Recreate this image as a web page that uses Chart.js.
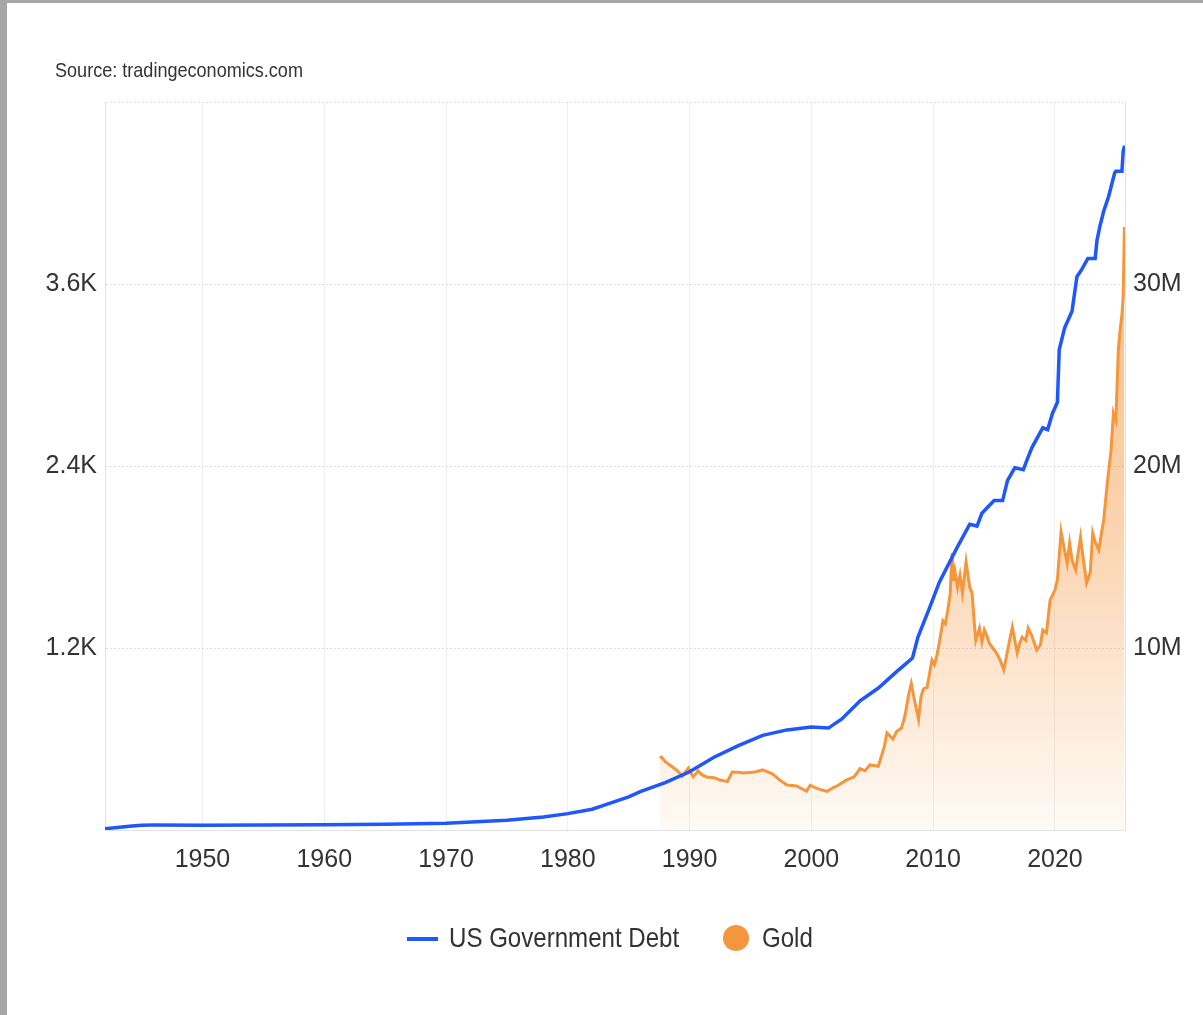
<!DOCTYPE html>
<html lang="en">
<head>
  <meta charset="UTF-8">
  <title>US Government Debt vs Gold</title>
  <style>
    html, body {
      margin: 0;
      padding: 0;
      background: #fff;
      width: 1203px;
      height: 1015px;
      overflow: hidden;
      font-family: 'Liberation Sans', Arial, sans-serif;
      color: #333;
    }
    .frame-left { position: absolute; left: 0; top: 0; width: 7px; height: 1015px; background: #a6a6a6; }
    .frame-top { position: absolute; left: 0; top: 0; width: 1203px; height: 3px; background: #a6a6a6; }
    #wrap { position: absolute; left: 0; top: 0; width: 1203px; height: 1015px; }
    .source {
      position: absolute;
      left: 55px;
      top: 58px;
      font-size: 21px;
      color: #333;
      transform: scaleX(0.86);
      transform-origin: left center;
      white-space: nowrap;
    }
    .lg { position: absolute; white-space: nowrap; }
    .lg-line { left: 407px; top: 937px; width: 31px; height: 4px; background: #1f57ff; }
    .lg-dot { left: 723px; top: 925px; width: 26px; height: 26px; border-radius: 50%; background: #f5963c; }
    .lg-text {
      top: 922px;
      font-size: 28px;
      color: #333;
      transform: scaleX(0.86);
      transform-origin: left center;
    }
  </style>
</head>
<body>
  <div id="wrap"><canvas id="chart" width="1203" height="1015"></canvas></div>
  <div class="frame-left"></div>
  <div class="frame-top"></div>
  <div class="source">Source: tradingeconomics.com</div>
  <div class="lg lg-line"></div>
  <div class="lg lg-text" style="left:449px">US Government Debt</div>
  <div class="lg lg-dot"></div>
  <div class="lg lg-text" style="left:762px">Gold</div>

  <script src="https://cdn.jsdelivr.net/npm/chart.js"></script>
  <script>
    // Debt in M (millions of USD millions)
    const debtYears = [1942, 1943, 1944, 1945, 1946, 1950, 1955, 1960, 1965, 1970, 1975, 1978, 1980, 1982,
      1983, 1985, 1986, 1988, 1990, 1992, 1994, 1996, 1998, 2000, 2001.4, 2002.5, 2004, 2005.5, 2007,
      2008.3, 2008.75, 2009.7, 2010.5, 2011.1, 2011.95, 2013.0, 2013.6, 2014.0, 2015.0, 2015.7, 2016.1,
      2016.7, 2017.4, 2017.8, 2018.1, 2019.0, 2019.4, 2019.8, 2020.2, 2020.35, 2020.8, 2021.4, 2021.8,
      2022.2, 2022.7, 2023.3, 2023.45, 2023.7, 2024.0, 2024.4, 2024.9, 2025.0, 2025.5, 2025.6, 2025.72];
    const debtValues = [0.07, 0.14, 0.2, 0.26, 0.27, 0.26, 0.27, 0.29, 0.32, 0.37, 0.53, 0.72, 0.9, 1.14,
      1.37, 1.82, 2.12, 2.6, 3.2, 4.0, 4.64, 5.2, 5.5, 5.66, 5.6, 6.1, 7.1, 7.8, 8.7,
      9.45, 10.6, 12.2, 13.6, 14.4, 15.5, 16.8, 16.7, 17.4, 18.1, 18.1, 19.2,
      19.9, 19.8, 20.5, 21.0, 22.1, 22.0, 22.9, 23.5, 26.4, 27.6, 28.5, 30.4,
      30.8, 31.4, 31.4, 32.4, 33.2, 34.0, 34.8, 36.1, 36.2, 36.2, 37.3, 37.6];

    // Gold in USD/oz
    const goldYears = [1987.55, 1987.7, 1988.0, 1988.6, 1989.0, 1989.4, 1989.9, 1990.3, 1990.7, 1991.0,
      1991.4, 1992.0, 1992.5, 1993.1, 1993.5, 1994.0, 1994.4, 1995.2, 1996.0, 1996.8, 1997.4, 1998.0,
      1998.8, 1999.6, 1999.9, 2000.3, 2000.7, 2001.3, 2001.8, 2002.1, 2002.9, 2003.5, 2004.0, 2004.4,
      2004.8, 2005.5, 2006.0, 2006.2, 2006.7, 2007.0, 2007.4, 2007.7, 2008.0, 2008.2, 2008.4, 2008.8,
      2009.0, 2009.2, 2009.5, 2009.9, 2010.1, 2010.3, 2010.5, 2010.8, 2011.0, 2011.2, 2011.4, 2011.55,
      2011.7, 2011.8, 2012.0, 2012.2, 2012.4, 2012.7, 2013.0, 2013.2, 2013.4, 2013.5, 2013.8, 2014.0,
      2014.2, 2014.4, 2014.6, 2014.9, 2015.2, 2015.5, 2015.8, 2016.2, 2016.5, 2016.9, 2017.1, 2017.3,
      2017.6, 2017.8, 2018.1, 2018.5, 2018.8, 2019.0, 2019.3, 2019.6, 2020.0, 2020.2, 2020.5, 2020.7,
      2021.0, 2021.2, 2021.4, 2021.7, 2022.1, 2022.3, 2022.6, 2022.9, 2023.1, 2023.3, 2023.6, 2023.8,
      2024.0, 2024.3, 2024.6, 2024.8, 2025.0, 2025.2, 2025.35, 2025.5, 2025.6, 2025.7];
    const goldValues = [475, 481, 450, 415, 390, 355, 409, 350, 390, 365,
      350, 345, 330, 320, 382, 380, 376, 380, 396, 370, 330, 297,
      290, 255, 295, 280, 268, 255, 280, 290, 330, 350, 405, 390,
      429, 420, 555, 640, 600, 650, 672, 760, 900, 965, 880, 730,
      880, 930, 940, 1120, 1090, 1150, 1233, 1380, 1360, 1450, 1560, 1826,
      1640, 1700, 1600, 1680, 1563, 1767, 1602, 1560, 1338, 1250, 1330, 1240,
      1319, 1280, 1233, 1200, 1167, 1120, 1055, 1220, 1338, 1167, 1230, 1272,
      1250, 1332, 1280, 1187, 1220, 1319, 1300, 1516, 1582, 1650, 1965, 1880,
      1760, 1892, 1780, 1714, 1932, 1800, 1628, 1700, 1958, 1900, 1846, 1950,
      2044, 2288, 2500, 2749, 2700, 3165, 3297, 3400, 3514, 3976];

    const xTicks = [1950, 1960, 1970, 1980, 1990, 2000, 2010, 2020];

    const FONT = "'Liberation Sans', Arial, sans-serif";
    const BLUE = '#1f57ff';
    const ORANGE = '#f5963c';

    const debtPoints = debtYears.map((x, i) => ({ x, y: debtValues[i] }));
    const goldPoints = goldYears.map((x, i) => ({ x, y: goldValues[i] }));

    const goldFill = (context) => {
      const area = context.chart.chartArea;
      if (!area) return 'rgba(245,150,60,0.3)';
      const g = context.chart.ctx.createLinearGradient(0, area.top, 0, area.bottom);
      g.addColorStop(0, 'rgba(245,150,60,0.75)');
      g.addColorStop(0.6, 'rgba(245,150,60,0.4)');
      g.addColorStop(1, 'rgba(245,150,60,0.05)');
      return g;
    };

    new Chart(document.getElementById('chart'), {
      type: 'line',
      data: {
        datasets: [
          {
            label: 'US Government Debt',
            data: debtPoints,
            yAxisID: 'yDebt',
            borderColor: BLUE,
            borderWidth: 3.5,
            pointRadius: 0,
            fill: false,
            order: 1
          },
          {
            label: 'Gold',
            data: goldPoints,
            yAxisID: 'yGold',
            borderColor: ORANGE,
            borderWidth: 3,
            pointRadius: 0,
            fill: 'origin',
            backgroundColor: goldFill,
            order: 2
          }
        ]
      },
      options: {
        responsive: false,
        animation: false,
        layout: { padding: { left: 0, right: 0, top: 102, bottom: 125 } },
        plugins: { legend: { display: false }, tooltip: { enabled: false } },
        scales: {
          x: {
            type: 'linear',
            min: 1942,
            max: 2025.75,
            afterBuildTicks: (axis) => { axis.ticks = xTicks.map(v => ({ value: v })); },
            afterFit: (axis) => { axis.height = 60; },
            grid: { color: '#efefef', lineWidth: 1, drawTicks: false },
            border: { display: true, color: '#e2e2e2' },
            ticks: {
              padding: 15,
              color: '#333',
              font: { family: FONT, size: 25 },
              callback: (v) => String(v)
            }
          },
          yGold: {
            position: 'left',
            min: 0,
            max: 4800,
            afterFit: (axis) => { axis.width = 105; },
            ticks: {
              stepSize: 1200,
              padding: 8,
              color: '#333',
              font: { family: FONT, size: 25 },
              callback: (v) => (v === 0 || v === 4800) ? '' : (v / 1000).toFixed(1) + 'K'
            },
            grid: {
              drawTicks: false,
              color: (c) => (c.tick && c.tick.value === 0) ? 'rgba(0,0,0,0)' : '#dedede'
            },
            border: { display: true, color: '#e2e2e2', dash: [2, 2] }
          },
          yDebt: {
            position: 'right',
            min: 0,
            max: 40,
            afterFit: (axis) => { axis.width = 78; },
            ticks: {
              stepSize: 10,
              padding: 8,
              color: '#333',
              font: { family: FONT, size: 25 },
              callback: (v) => (v === 0 || v === 40) ? '' : v + 'M'
            },
            grid: { display: false, drawOnChartArea: false, drawTicks: false },
            border: { display: true, color: '#e2e2e2' }
          }
        }
      }
    });
  </script>
</body>
</html>
